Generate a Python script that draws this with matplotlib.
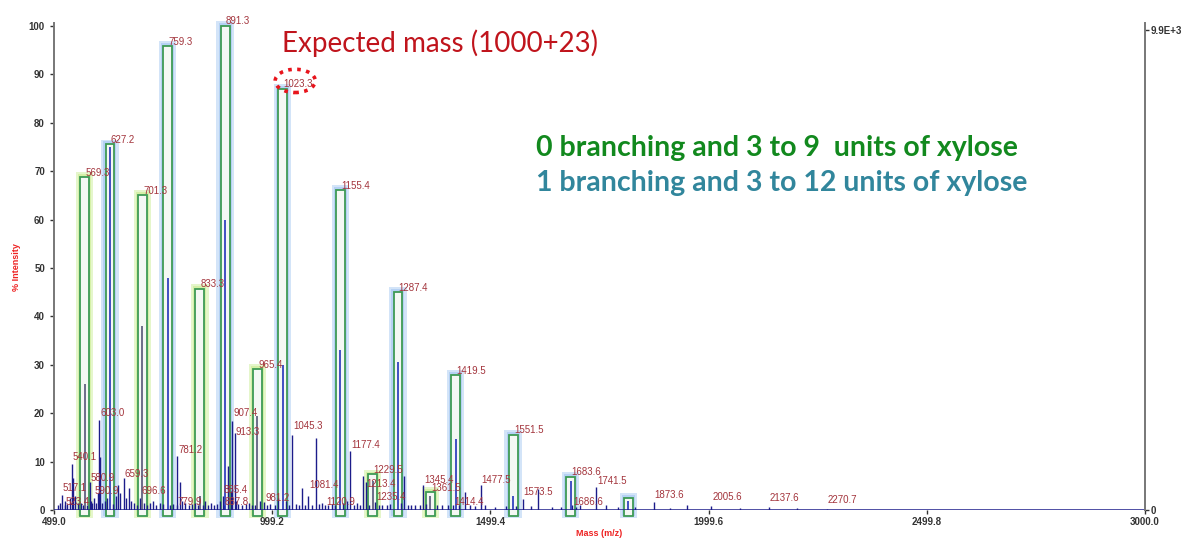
import numpy as np
import matplotlib
matplotlib.use('Agg')
import matplotlib.pyplot as plt
from matplotlib.patches import Rectangle, Ellipse

# highlighted peaks: (m/z, % intensity, visible inner stick height)
green_mz = [569.3, 701.3, 833.3, 965.4, 1229.5, 1361.5]
green_int = [68.7, 65.0, 45.7, 29.1, 7.4, 3.8]
green_inner = [26.0, 38.0, 3.0, 19.5, 6.0, 3.0]

blue_mz = [627.2, 759.3, 891.3, 1023.3, 1155.4, 1287.4, 1419.5, 1551.5, 1683.6, 1815.6]
blue_int = [75.5, 95.8, 100.0, 87.0, 66.1, 45.0, 27.9, 15.6, 6.9, 2.6]
blue_inner = [75.0, 48.0, 60.0, 30.0, 33.0, 30.5, 14.7, 3.0, 6.0, 2.0]
blue_labels = ['627.2', '759.3', '891.3', '1023.3', '1155.4', '1287.4', '1419.5', '1551.5', '1683.6', '']
green_labels = ['569.3', '701.3', '833.3', '965.4', '1229.5', '1361.5']

# labelled minor peaks
minor_mz = [517.1, 523.4, 540.1, 580.9, 590.9, 603.0, 659.3, 696.6, 779.9, 781.2,
            885.4, 887.8, 907.4, 913.3, 981.2, 1045.3, 1081.4, 1120.9, 1177.4,
            1213.4, 1235.4, 1345.4, 1414.4, 1477.5, 1573.5, 1686.6, 1741.5,
            1873.6, 2005.6, 2137.6, 2270.7]
minor_int = [3.1, 1.0, 9.6, 5.9, 2.5, 18.7, 6.6, 2.5, 1.0, 11.2,
             3.0, 1.0, 18.5, 16.0, 1.8, 15.5, 2.9, 1.0, 12.2,
             5.9, 1.7, 5.3, 1.0, 5.3, 2.3, 1.0, 4.8,
             1.8, 0.8, 0.7, 0.3]
minor_lab_y = [3.8, 1.0, 10.2, 6.0, 3.2, 19.4, 6.8, 3.2, 1.0, 11.8,
               3.5, 1.0, 19.4, 15.4, 1.8, 16.6, 4.6, 1.0, 12.8,
               4.8, 2.0, 5.6, 1.0, 5.6, 3.0, 1.0, 5.4,
               2.4, 2.0, 1.8, 1.4]

# unlabelled sticks and noise
other_mz = [508, 513, 524, 529, 535, 541.5, 547, 553, 560, 566, 574, 584, 587, 596,
            600, 603.5, 610, 616, 621, 634, 641, 646, 651, 664, 670, 676, 682, 690,
            706, 713, 720, 727, 733, 741, 748, 766, 772, 787, 793, 800, 808, 815,
            822, 828, 840, 846, 853, 860, 866, 873, 880, 898, 904, 916, 921, 930,
            938, 946, 952, 959, 972, 988, 994, 1005, 1012, 1030, 1037, 1053, 1060,
            1068, 1075, 1090, 1099, 1107, 1113, 1128, 1136, 1143, 1162, 1170, 1186,
            1194, 1201, 1207, 1221, 1243, 1252, 1262, 1270, 1295, 1302, 1310, 1318,
            1326, 1337, 1352, 1376, 1389, 1403, 1427, 1441, 1452, 1465, 1487, 1509,
            1535, 1559, 1593, 1609, 1640, 1662, 1695, 1704, 1765, 1793, 1832, 1910,
            1949, 2072, 2203]
other_int = [1.0, 1.5, 2.0, 1.2, 2.5, 6.7, 3.0, 1.5, 1.5, 1.0, 1.0, 2.0, 1.5, 1.5,
             3.5, 11.0, 1.5, 2.0, 2.5, 1.2, 3.0, 5.3, 3.5, 2.5, 4.5, 2.0, 1.5, 1.0,
             1.5, 1.0, 1.5, 2.0, 1.0, 1.5, 1.2, 1.0, 1.2, 5.8, 2.0, 1.5, 1.0, 1.2,
             1.5, 1.0, 1.0, 2.0, 1.0, 1.5, 1.0, 1.2, 2.0, 9.2, 4.0, 2.0, 1.2, 1.0,
             1.2, 1.5, 1.0, 1.0, 2.0, 1.0, 1.2, 1.0, 2.5, 2.0, 1.0, 1.2, 1.0,
             4.5, 1.0, 1.0, 15.0, 1.2, 1.5, 1.0, 1.2, 1.0, 1.5, 2.0, 1.0,
             1.5, 1.0, 7.0, 1.0, 1.0, 1.0, 1.0, 1.2, 1.5, 7.0, 1.0, 1.0,
             1.0, 1.0, 1.2, 1.0, 1.0, 1.0, 1.0, 3.8, 1.0, 0.8, 1.0, 0.6,
             0.8, 0.8, 0.8, 4.4, 0.6, 0.6, 0.6, 1.0, 1.0, 0.6, 0.6, 0.5,
             1.1, 0.4, 0.4]

xticks = [499.0, 999.2, 1499.4, 1999.6, 2499.8, 3000.0]

navy = '#1c1c8a'
lab_col = '#a3343c'
box_col = '#3e9a55'

fig = plt.figure(figsize=(11.82, 5.4), dpi=100)
ax = fig.add_axes([0.0457, 0.055, 0.9230, 0.902])
ax.set_xlim(499.0, 3000.0)
ax.set_ylim(0, 100.5)

# glow + outline boxes
for mz_list, h_list, glow in [(green_mz, green_int, '#cdee98'), (blue_mz, blue_int, '#a9caf3')]:
    for mz, h in zip(mz_list, h_list):
        ax.add_patch(Rectangle((mz - 20, -1.6), 40, h + 2.6, facecolor=glow, edgecolor='none',
                               alpha=0.5, clip_on=False, zorder=1))
        ax.add_patch(Rectangle((mz - 15, -1.2), 30, h + 1.8, facecolor=glow, edgecolor='none',
                               alpha=0.7, clip_on=False, zorder=1))
        ax.add_patch(Rectangle((mz - 10, -1.2), 20, h + 1.2, facecolor='#f4f8f4', edgecolor=box_col,
                               linewidth=1.3, clip_on=False, zorder=3))

# spectrum sticks
ax.vlines(other_mz, 0, other_int, color=navy, linewidth=1.0, zorder=4)
ax.vlines(minor_mz, 0, minor_int, color=navy, linewidth=1.0, zorder=4)
ax.vlines(green_mz, 0, green_inner, color='#555577', linewidth=1.2, zorder=4)
ax.vlines(blue_mz, 0, blue_inner, color='#2233bb', linewidth=1.2, zorder=4)
ax.axhline(0, color=navy, linewidth=1.8, zorder=5)

# peak labels
for mz, h, lab in zip(green_mz + blue_mz, green_int + blue_int, green_labels + blue_labels):
    ax.text(mz + 2, h + 0.9, lab, color=lab_col, fontsize=7, family='Liberation Sans',
            ha='left', va='center', zorder=6)
for mz, y in zip(minor_mz, minor_lab_y):
    ax.text(mz + 2, y + 0.7, f'{mz:.1f}', color=lab_col, fontsize=7, family='Liberation Sans',
            ha='left', va='center', zorder=6)

# annotation
ax.add_patch(Ellipse((1052, 88.6), 92, 4.8, fill=False, edgecolor='#e8141c', linestyle=(0, (1, 1.5)),
                     linewidth=2.6, zorder=7))
ax.text(1022, 96.3, 'Expected mass (1000+23)', color='#c0141c', fontsize=20, family='Lato',
        ha='left', va='center')
ax.text(1605, 74.8, '0 branching and 3 to 9  units of xylose', color='#12891e', fontsize=20.5,
        family='Lato', fontweight='bold', ha='left', va='center')
ax.text(1605, 67.5, '1 branching and 3 to 12 units of xylose', color='#31869c', fontsize=20.5,
        family='Lato', fontweight='bold', ha='left', va='center')

# axes styling
for s in ['top', 'right']:
    ax.spines[s].set_visible(False)
ax.spines['left'].set_color('#777777')
ax.spines['left'].set_linewidth(1.4)
ax.spines['bottom'].set_visible(False)
ax.set_yticks(np.arange(0, 101, 10))
ax.set_xticks(xticks)
ax.set_xticklabels([f'{t:.1f}' for t in xticks])
ax.tick_params(axis='both', labelsize=7, colors='#333333', length=3, width=1)
for lab in ax.get_xticklabels() + ax.get_yticklabels():
    lab.set_fontweight('bold')
    lab.set_family('Liberation Sans')
ax.tick_params(axis='x', pad=2)
ax.set_xlabel('Mass (m/z)', color='#ee2222', fontsize=6.5, fontweight='bold',
              family='Liberation Sans', labelpad=1)
ax.set_ylabel('% Intensity', color='#ee2222', fontsize=6.5, fontweight='bold',
              family='Liberation Sans', labelpad=6)

ax2 = ax.twinx()
ax2.set_ylim(0, 9900 * 100.5 / 100 * 1.01)
ax2.set_yticks([0, 9900])
ax2.set_yticklabels(['0', '9.9E+3'])
for s in ['top', 'left', 'bottom']:
    ax2.spines[s].set_visible(False)
ax2.spines['right'].set_color('#777777')
ax2.spines['right'].set_linewidth(1.4)
ax2.tick_params(axis='y', labelsize=7, colors='#333333', length=3, width=1, pad=1)
for lab in ax2.get_yticklabels():
    lab.set_fontweight('bold')
    lab.set_family('Liberation Sans')

fig.savefig('out.png', dpi=100, facecolor='white')
